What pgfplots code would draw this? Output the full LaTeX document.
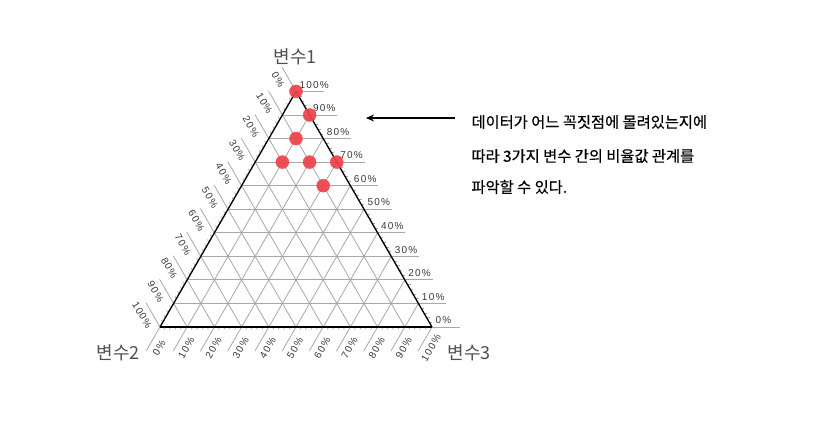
\documentclass[border=0pt]{standalone}
\usepackage{pgfplots}
\pgfplotsset{compat=1.18}
\usepgfplotslibrary{ternary}
\usetikzlibrary{arrows.meta}
\usepackage{fontspec}
\setmainfont{Liberation Sans}
\newfontfamily\kr{Noto Sans CJK KR}
\newfontfamily\krm[FakeBold=0.5]{Noto Sans CJK KR}
\newfontfamily\tickfont[LetterSpace=12]{Liberation Sans}
\definecolor{gridgray}{HTML}{A8A8A8}
\definecolor{labgray}{HTML}{505050}
\definecolor{tickgray}{HTML}{383838}
\definecolor{dotred}{HTML}{F0404A}
\begin{document}
\begin{tikzpicture}[x=1pt,y=1pt]
\useasboundingbox (0,0) rectangle (833,430);
\begin{ternaryaxis}[
    name=t,
    at={(160pt,103pt)}, anchor=south west,
    scale only axis, width=272pt, height=235.5pt,
    xmin=0, xmax=100, ymin=0, ymax=100, zmin=0, zmax=100,
    xtick={0,10,...,100}, ytick={0,10,...,100}, ztick={0,10,...,100},
    minor tick num=4,
    tick align=outside,
    major tick length=28pt,
    minor tick length=3pt,
    major tick style={gridgray, line width=0.8pt},
    minor tick style={gridgray, line width=0.6pt},
    grid=major,
    major grid style={gridgray, line width=0.8pt},
    axis line style={black, line width=1.3pt},
    /pgf/number format/assume math mode=true,
    ticklabel style={font=\tickfont\fontsize{10}{10}\selectfont, text=tickgray, inner sep=0pt},
    xticklabel style={anchor=south west, xshift=-24.5pt, yshift=3pt},
    yticklabel style={anchor=center, xshift=-4pt, yshift=-12.3pt, rotate=-60},
    zticklabel style={anchor=center, xshift=13pt, yshift=3pt, rotate=60},
    xticklabel={\pgfmathprintnumber{\tick}\kern1.2pt\%},
    yticklabel={\pgfmathprintnumber{\tick}\kern1.2pt\%},
    zticklabel={\pgfmathprintnumber{\tick}\kern1.2pt\%},
]
\addplot3[only marks, mark=*, mark size=6.5pt, color=dotred,
    mark options={draw=dotred, fill=dotred, opacity=0.92}]
    coordinates {
    (100,0,0)
    (90,0,10)
    (80,10,10)
    (70,20,10) (70,10,20) (70,0,30)
    (60,10,30)
    };
\end{ternaryaxis}
\node[font=\kr\fontsize{18}{18}\selectfont, text=labgray] at (295,373) {변수1};
\node[font=\kr\fontsize{18}{18}\selectfont, text=labgray] at (118,77) {변수2};
\node[font=\kr\fontsize{18}{18}\selectfont, text=labgray] at (469,77) {변수3};
\draw[-{Stealth[length=8pt,width=7pt]}, line width=1.6pt] (455,312) -- (366,312);
\begin{scope}[every node/.style={anchor=west, font=\krm\fontsize{15.3}{16}\selectfont}]
\node at (468,308) {데이터가 어느 꼭짓점에 몰려있는지에};
\node at (468,274) {따라 3가지 변수 간의 비율값 관계를};
\node at (468,243) {파악할 수 있다.};
\end{scope}
\end{tikzpicture}
\end{document}
